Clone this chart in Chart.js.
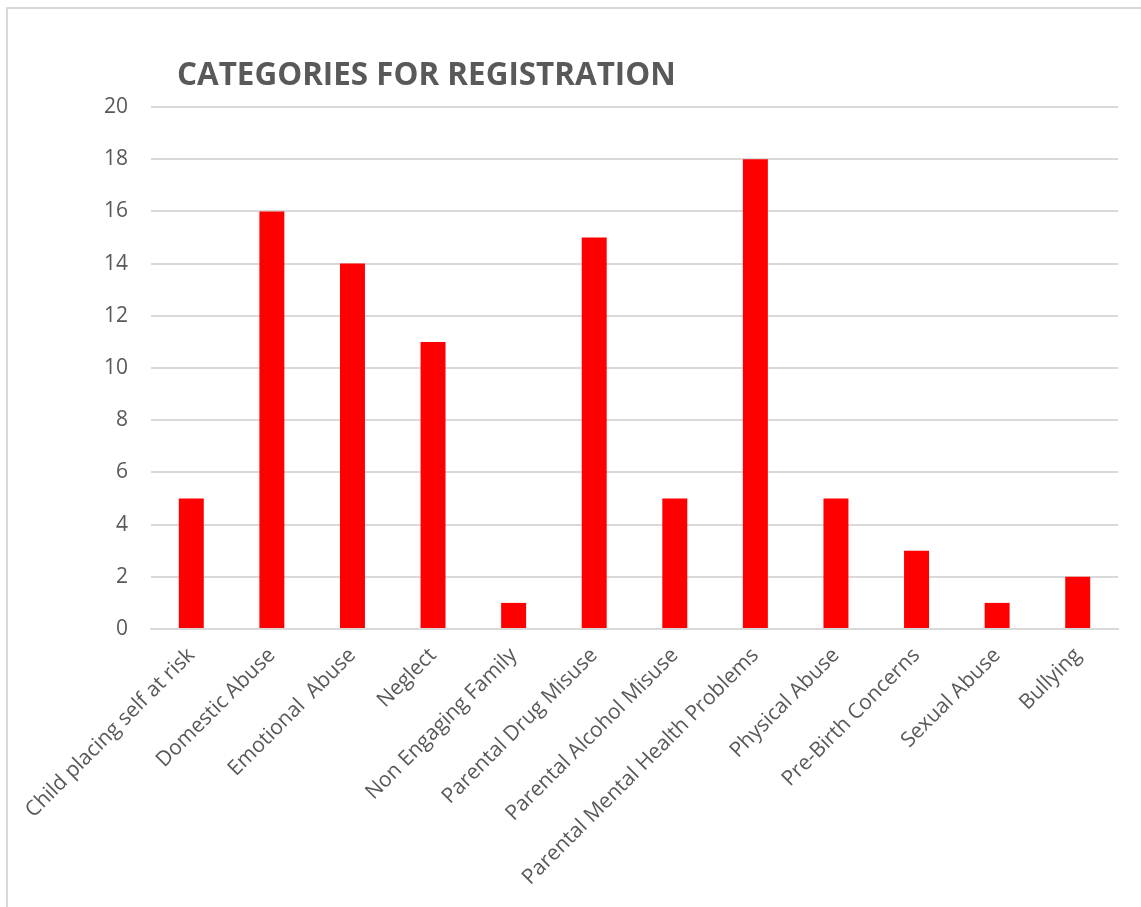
<!DOCTYPE html>
<html>
<head>
<meta charset="utf-8">
<script src="https://cdn.jsdelivr.net/npm/chart.js@4/dist/chart.umd.min.js"></script>
<style>
html,body{margin:0;padding:0;background:#fff;}
#wrap{position:relative;width:1141px;height:907px;}
</style>
</head>
<body>
<div id="wrap"><canvas id="c" width="1141" height="907"></canvas></div>
<script>
const categories = ["Child placing self at risk","Domestic Abuse","Emotional  Abuse","Neglect","Non Engaging Family","Parental Drug Misuse","Parental Alcohol Misuse","Parental Mental Health Problems","Physical Abuse","Pre-Birth Concerns","Sexual Abuse","Bullying"];
const values = [5,16,14,11,1,15,5,18,5,3,1,2];
const titleText = "CATEGORIES FOR REGISTRATION";
const yMin = 0, yMax = 20, yStep = 2;

const frame = {
  id: 'frame',
  beforeDraw(chart) {
    const ctx = chart.ctx;
    ctx.save();
    ctx.fillStyle = '#fff';
    ctx.fillRect(0, 0, chart.width, chart.height);
    ctx.strokeStyle = '#d9d9d9';
    ctx.lineWidth = 2;
    ctx.beginPath();
    ctx.moveTo(7, 907);
    ctx.lineTo(7, 8);
    ctx.lineTo(1141, 8);
    ctx.stroke();
    ctx.restore();
  },
  afterDraw(chart) {
    const ctx = chart.ctx;
    ctx.save();
    ctx.fillStyle = '#595959';
    ctx.font = 'bold 31.4px "Open Sans"';
    ctx.textBaseline = 'alphabetic';
    ctx.textAlign = 'left';
    ctx.fillText(titleText, 177, 85);
    ctx.restore();
  }
};

new Chart(document.getElementById('c'), {
  type: 'bar',
  data: {
    labels: categories,
    datasets: [{
      data: values,
      backgroundColor: '#ff0000',
      borderWidth: 0,
      barPercentage: 0.31,
      categoryPercentage: 1.0
    }]
  },
  options: {
    responsive: false,
    animation: false,
    layout: { padding: { top: 107, right: 23, left: 0, bottom: 0 } },
    plugins: { legend: { display: false }, title: { display: false }, tooltip: { enabled: false } },
    scales: {
      x: {
        grid: { display: false, drawTicks: false },
        border: { display: true, color: '#d9d9d9', width: 2 },
        ticks: {
          color: '#595959',
          font: { family: '"Open Sans"', size: 21 },
          minRotation: 45, maxRotation: 45,
          padding: 14,
          autoSkip: false
        },
        afterFit(axis) { axis.height = 278; }
      },
      y: {
        min: yMin, max: yMax,
        grid: { color: '#d9d9d9', lineWidth: 2, drawTicks: false },
        border: { display: false },
        ticks: {
          stepSize: yStep,
          color: '#595959',
          font: { family: '"Open Sans"', size: 21 },
          padding: 23
        },
        afterFit(axis) { axis.width = 151; }
      }
    }
  },
  plugins: [frame]
});
</script>
</body>
</html>
